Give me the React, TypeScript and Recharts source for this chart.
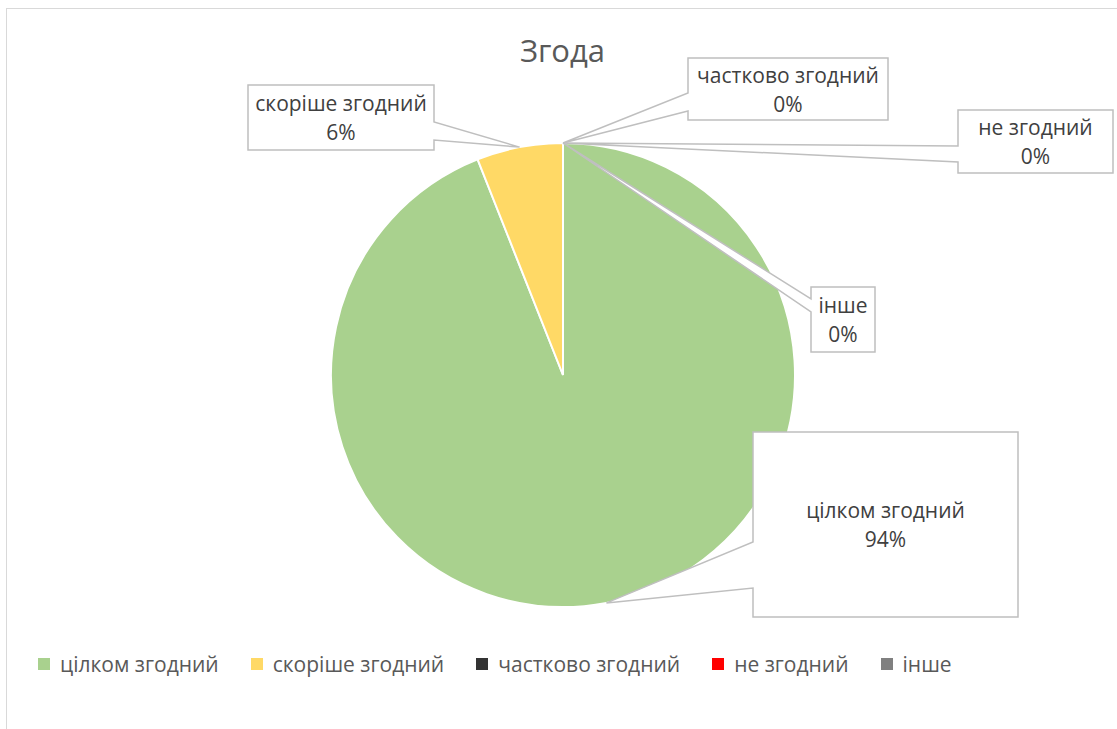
import React from 'react';
import { PieChart, Pie, Cell, Legend } from 'recharts';

const categories = ['цілком згодний', 'скоріше згодний', 'частково згодний', 'не згодний', 'інше'];
const shares = [94, 6, 0, 0, 0];
const colors = ['#A9D18E', '#FFD966', '#333333', '#FF0000', '#808080'];

const data = categories.map((name, i) => ({ name, value: shares[i] }));

// callout boxes, relative to pie centre; wedge base given as offsets from box top
const calloutBoxes = [
  { dx: 190, dy: 57, w: 265, h: 185, side: 'left', b1: 110, b2: 156 },
  { dx: -315, dy: -290, w: 186, h: 65, side: 'right', b1: 37, b2: 55 },
  { dx: 125, dy: -317, w: 200, h: 62, side: 'left', b1: 35, b2: 53 },
  { dx: 395, dy: -265, w: 155, h: 63, side: 'left', b1: 36, b2: 52 },
  { dx: 248, dy: -88, w: 64, h: 65, side: 'left', b1: 12, b2: 25 },
];

const FONT = '"Open Sans", "Noto Sans", sans-serif';
const RAD = Math.PI / 180;

const renderCallout = (props: any) => {
  const { cx, cy, midAngle, outerRadius, index, percent, name } = props;
  const px = cx + outerRadius * Math.cos(-midAngle * RAD);
  const py = cy + outerRadius * Math.sin(-midAngle * RAD);
  const b = calloutBoxes[index];
  const x = cx + b.dx;
  const y = cy + b.dy;
  let d;
  if (b.side === 'left') {
    d = `M${x},${y} L${x + b.w},${y} L${x + b.w},${y + b.h} L${x},${y + b.h} L${x},${y + b.b2} L${px},${py} L${x},${y + b.b1} Z`;
  } else {
    d = `M${x},${y} L${x + b.w},${y} L${x + b.w},${y + b.b1} L${px},${py} L${x + b.w},${y + b.b2} L${x + b.w},${y + b.h} L${x},${y + b.h} Z`;
  }
  const mx = x + b.w / 2;
  const my = y + b.h / 2;
  return (
    <g key={`callout-${index}`}>
      <path d={d} fill="#fff" stroke="#BFBFBF" strokeWidth={1.5} />
      <text x={mx} y={my - 14.5} textAnchor="middle" dominantBaseline="central" fontSize={21} fill="#404040" fontFamily={FONT}>
        {name}
      </text>
      <text x={mx} y={my + 14.5} textAnchor="middle" dominantBaseline="central" fontSize={21} fill="#404040" fontFamily={FONT}>
        {`${Math.round(percent * 100)}%`}
      </text>
    </g>
  );
};

const renderLegend = () => (
  <div style={{ display: 'flex', alignItems: 'center', fontFamily: FONT, fontSize: 21, color: '#595959' }}>
    {categories.map((name, i) => (
      <div key={name} style={{ display: 'flex', alignItems: 'center', marginRight: 32 }}>
        <span style={{ display: 'inline-block', width: 12, height: 12, background: colors[i], marginRight: 10 }} />
        <span>{name}</span>
      </div>
    ))}
  </div>
);

export default function App() {
  return (
    <div style={{ position: 'absolute', left: 0, top: 0, width: 1117, height: 729, overflow: 'hidden', background: '#fff' }}>
      <div style={{ position: 'absolute', left: 6, top: 8, width: 1200, height: 800, border: '1px solid #D9D9D9' }} />
      <div style={{ position: 'absolute', left: 0, top: 29, width: 1125, textAlign: 'center', fontFamily: FONT, fontSize: 31, color: '#595959' }}>
        Згода
      </div>
      <div style={{ position: 'absolute', left: 0, top: 0 }}>
        <PieChart width={1117} height={729} margin={{ top: 0, right: 0, bottom: 0, left: 0 }}>
          <Pie
            data={data}
            dataKey="value"
            nameKey="name"
            cx={563}
            cy={375}
            outerRadius={232}
            startAngle={90}
            endAngle={-270}
            stroke="#fff"
            strokeWidth={2}
            label={renderCallout}
            labelLine={false}
            isAnimationActive={false}
          >
            {data.map((entry, i) => (
              <Cell key={entry.name} fill={colors[i]} />
            ))}
          </Pie>
          <Legend content={renderLegend} wrapperStyle={{ left: 38, top: 650, width: 'auto' }} />
        </PieChart>
      </div>
    </div>
  );
}
